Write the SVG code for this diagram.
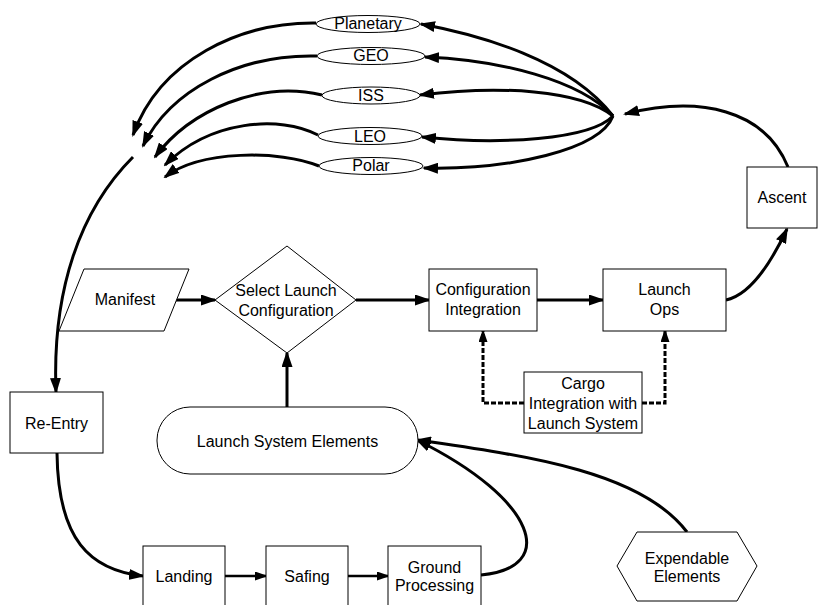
<svg xmlns="http://www.w3.org/2000/svg" width="818" height="605" viewBox="0 0 818 605">
  <defs>
    <style>
      .box { fill: #fff; stroke: #000; stroke-width: 1; }
      .lbl { font-family: "Liberation Sans", Arial, sans-serif; font-size: 16px; text-anchor: middle; fill: #000; }
      .flow { fill: none; stroke: #000; stroke-width: 3; }
      .thin { stroke-width: 2.5; }
      .dash { stroke-dasharray: 5 2; }
    </style>
    <marker id="ah" markerWidth="16" markerHeight="11" refX="14" refY="5.5" orient="auto" markerUnits="userSpaceOnUse">
      <path d="M0,0 L16,5.5 L0,11 z" fill="#000"/>
    </marker>
    <marker id="ahs" markerWidth="13" markerHeight="9" refX="11" refY="4.5" orient="auto" markerUnits="userSpaceOnUse">
      <path d="M0,0 L13,4.5 L0,9 z" fill="#000"/>
    </marker>
  </defs>
  <rect width="818" height="605" fill="#fff"/>

  <!-- connectors -->
  <g id="connectors">
    <!-- ascent to orbit fan-out point -->
    <path class="flow" d="M788,167 C765,110 700,95 625,114" marker-end="url(#ah)"/>
    <!-- fan-out to destinations -->
    <path class="flow" d="M613,116 C570,60 480,35 421,24" marker-end="url(#ah)"/>
    <path class="flow" d="M613,116 C580,80 500,60 425,57" marker-end="url(#ah)"/>
    <path class="flow" d="M613,116 C580,90 500,85 420,95" marker-end="url(#ah)"/>
    <path class="flow" d="M613,116 C590,140 500,145 422,137" marker-end="url(#ah)"/>
    <path class="flow" d="M613,116 C600,150 510,170 424,168" marker-end="url(#ah)"/>
    <!-- destinations back to return point -->
    <path class="flow" d="M316,23 C240,22 160,60 133,135" marker-end="url(#ah)"/>
    <path class="flow" d="M317,56 C240,54 170,90 143,146" marker-end="url(#ah)"/>
    <path class="flow" d="M322,95 C260,80 190,110 155,157" marker-end="url(#ah)"/>
    <path class="flow" d="M318,135 C280,115 210,120 165,165" marker-end="url(#ah)"/>
    <path class="flow" d="M319,166 C280,150 200,150 165,177" marker-end="url(#ah)"/>
    <!-- return point to re-entry -->
    <path class="flow" d="M133,157 C80,210 52,290 56,392" marker-end="url(#ah)"/>
    <!-- re-entry to landing -->
    <path class="flow" d="M57,453 C58,540 90,570 143,576" marker-end="url(#ah)"/>
    <path class="flow thin" d="M225,576 L266,576" marker-end="url(#ahs)"/>
    <path class="flow thin" d="M348,576 L388,576" marker-end="url(#ahs)"/>
    <!-- ground processing back to launch system elements -->
    <path class="flow" d="M481,575 C558,568 538,500 417,440" marker-end="url(#ah)"/>
    <path class="flow" d="M687,532 C640,470 520,455 417,440" marker-end="url(#ah)"/>
    <!-- main launch flow -->
    <path class="flow" d="M287,407 L287,353" marker-end="url(#ah)"/>
    <path class="flow" d="M174,300 L215,300" marker-end="url(#ah)"/>
    <path class="flow" d="M356,300 L429,300" marker-end="url(#ah)"/>
    <path class="flow" d="M537,300 L603,300" marker-end="url(#ah)"/>
    <path class="flow" d="M726,300 C750,295 770,265 787,229" marker-end="url(#ah)"/>
    <!-- cargo integration support -->
    <path class="flow dash" d="M524,403 L483,403 L483,331" marker-end="url(#ahs)"/>
    <path class="flow dash" d="M642,403 L665,403 L665,331" marker-end="url(#ahs)"/>
  </g>

  <!-- destinations -->
  <g id="planetary">
    <ellipse class="box" cx="368" cy="24" rx="52" ry="8.5"/>
    <text class="lbl" x="368" y="29">Planetary</text>
  </g>
  <g id="geo">
    <ellipse class="box" cx="371" cy="56" rx="54" ry="8.5"/>
    <text class="lbl" x="371" y="61">GEO</text>
  </g>
  <g id="iss">
    <ellipse class="box" cx="371" cy="95.5" rx="49" ry="8.5"/>
    <text class="lbl" x="371" y="101">ISS</text>
  </g>
  <g id="leo">
    <ellipse class="box" cx="370" cy="136" rx="52" ry="8.5"/>
    <text class="lbl" x="370" y="142">LEO</text>
  </g>
  <g id="polar">
    <ellipse class="box" cx="371" cy="166" rx="52" ry="8.5"/>
    <text class="lbl" x="371" y="171">Polar</text>
  </g>

  <g id="ascent">
    <rect class="box" x="747" y="167" width="70" height="61"/>
    <text class="lbl" x="782" y="203">Ascent</text>
  </g>

  <g id="manifest">
    <polygon class="box" points="84,269 189,269 164,331 59,331"/>
    <text class="lbl" x="125" y="305">Manifest</text>
  </g>

  <g id="select-launch-configuration">
    <polygon class="box" points="215,300 287,246 356,300 287,353"/>
    <text class="lbl" x="286" y="296">Select Launch</text>
    <text class="lbl" x="286" y="316">Configuration</text>
  </g>

  <g id="configuration-integration">
    <rect class="box" x="429" y="269" width="108" height="62"/>
    <text class="lbl" x="483" y="295">Configuration</text>
    <text class="lbl" x="483" y="315">Integration</text>
  </g>

  <g id="launch-ops">
    <rect class="box" x="603" y="269" width="123" height="62"/>
    <text class="lbl" x="664.5" y="295">Launch</text>
    <text class="lbl" x="664.5" y="315">Ops</text>
  </g>

  <g id="cargo-integration">
    <rect class="box" x="524" y="372" width="118" height="61"/>
    <text class="lbl" x="583" y="389">Cargo</text>
    <text class="lbl" x="583" y="409">Integration with</text>
    <text class="lbl" x="583" y="429">Launch System</text>
  </g>

  <g id="launch-system-elements">
    <rect class="box" x="157" y="407" width="261" height="67" rx="33" ry="33"/>
    <text class="lbl" x="287.5" y="447">Launch System Elements</text>
  </g>

  <g id="re-entry">
    <rect class="box" x="10" y="392" width="93" height="61"/>
    <text class="lbl" x="56.5" y="429">Re-Entry</text>
  </g>

  <g id="landing">
    <rect class="box" x="143" y="546" width="82" height="70"/>
    <text class="lbl" x="184" y="582">Landing</text>
  </g>

  <g id="safing">
    <rect class="box" x="266" y="546" width="82" height="70"/>
    <text class="lbl" x="307" y="582">Safing</text>
  </g>

  <g id="ground-processing">
    <rect class="box" x="388" y="546" width="93" height="70"/>
    <text class="lbl" x="434.5" y="573">Ground</text>
    <text class="lbl" x="434.5" y="591">Processing</text>
  </g>

  <g id="expendable-elements">
    <polygon class="box" points="617,566 637,532 737,532 757,566 737,601 637,601"/>
    <text class="lbl" x="687" y="564">Expendable</text>
    <text class="lbl" x="687" y="582">Elements</text>
  </g>
</svg>
